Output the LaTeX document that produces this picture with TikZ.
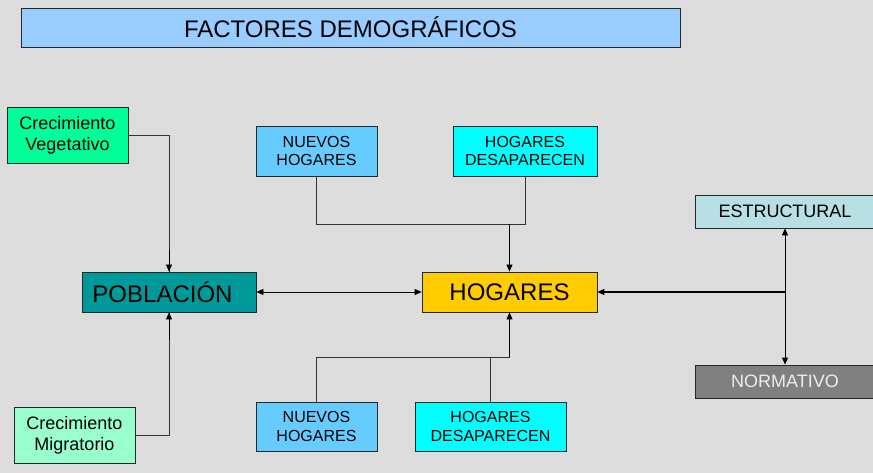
\documentclass[tikz,border=0pt]{standalone}
\usepackage{fontspec}
\setmainfont{Liberation Sans}
\usetikzlibrary{arrows.meta}
\definecolor{fondo}{HTML}{DDDDDD}
\definecolor{titulo}{HTML}{99CCFF}
\definecolor{vegetativo}{HTML}{00FF99}
\definecolor{migratorio}{HTML}{99FFCC}
\definecolor{poblacion}{HTML}{009999}
\definecolor{hogares}{HTML}{FFCC00}
\definecolor{nuevos}{HTML}{66CCFF}
\definecolor{desaparecen}{HTML}{00FFFF}
\definecolor{estructural}{HTML}{B7DFE4}
\definecolor{normativo}{HTML}{808080}
\definecolor{linea}{HTML}{333333}
\begin{document}
\begin{tikzpicture}[x=1pt, y=-1pt,
    caja/.style={draw=black!85, line width=0.8pt, inner sep=0pt, align=center},
    grande/.style={caja, font=\fontsize{24}{28}\selectfont},
    media/.style={caja, font=\fontsize{18}{21}\selectfont},
    chica/.style={caja, font=\fontsize{16}{18.5}\selectfont},
    union/.style={draw=linea, line width=0.8pt},
    flecha/.style={draw=black, line width=0.8pt, -{Triangle[length=7pt,width=6pt]}},
    doble/.style={flecha, {Triangle[length=7pt,width=6pt]}-{Triangle[length=7pt,width=6pt]}}]
        % fondo
        \fill[fondo] (0,0) rectangle (873,473);
        \useasboundingbox (0,0) rectangle (873,473);

        % titulo
        \node[grande, fill=titulo, minimum width=659pt, minimum height=39pt] (tit) at (350.5, 27.5) {FACTORES DEMOGRÁFICOS};

        % bloque poblacion
        \node[media, fill=vegetativo, minimum width=121pt, minimum height=56pt] (veg) at (67.5, 135) {Crecimiento\\Vegetativo};
        \node[grande, fill=poblacion, minimum width=174pt, minimum height=40pt] (pob) at (169, 292) {\hspace*{-13pt}POBLACIÓN};
        \node[media, fill=migratorio, minimum width=121pt, minimum height=56pt] (mig) at (74.5, 435) {Crecimiento\\Migratorio};

        % bloque hogares
        \node[grande, fill=hogares, minimum width=175pt, minimum height=40pt] (hog) at (509.5, 292) {HOGARES};
        \node[chica, fill=nuevos, minimum width=121pt, minimum height=50pt] (nh1) at (316.5, 151) {NUEVOS\\HOGARES};
        \node[chica, fill=desaparecen, minimum width=144pt, minimum height=50pt] (hd1) at (525, 151) {HOGARES\\DESAPARECEN};
        \node[chica, fill=nuevos, minimum width=121pt, minimum height=49pt] (nh2) at (316.5, 426.5) {NUEVOS\\HOGARES};
        \node[chica, fill=desaparecen, minimum width=151pt, minimum height=49pt] (hd2) at (490.5, 426.5) {HOGARES\\DESAPARECEN};

        % tipos
        \node[media, fill=estructural, minimum width=180pt, minimum height=33pt] (est) at (785, 211.5) {ESTRUCTURAL};
        \node[media, fill=normativo, text=white!93!black, minimum width=180pt, minimum height=33pt] (nor) at (785, 381.5) {NORMATIVO};

        % puntos de union
        \coordinate (jsup) at (509.5, 224);
        \coordinate (jinf) at (509.5, 357);
        \coordinate (jder) at (785, 292);

        % conexiones de poblacion
        \draw[union] (veg.east) -| (pob.north);
        \draw[flecha] (pob.north |- 0,250) -- (pob.north);
        \draw[union] (mig.east) -| (pob.south);
        \draw[flecha] (pob.south |- 0,340) -- (pob.south);
        \draw[doble] (pob.east) -- (hog.west);

        % conexiones de hogares
        \draw[union] (nh1.south) |- (hd1.south |- jsup) -- (hd1.south);
        \draw[flecha] (jsup) -- (hog.north);
        \draw[union] (nh2.north) |- (jinf);
        \draw[union] (hd2.north) -- (hd2.north |- jinf);
        \draw[flecha] (jinf) -- (hog.south);

        % conexiones de tipos
        \draw[doble] (est.south) -- (nor.north);
        \draw[flecha, line width=1.1pt] (jder) -- (hog.east);
\end{tikzpicture}
\end{document}
